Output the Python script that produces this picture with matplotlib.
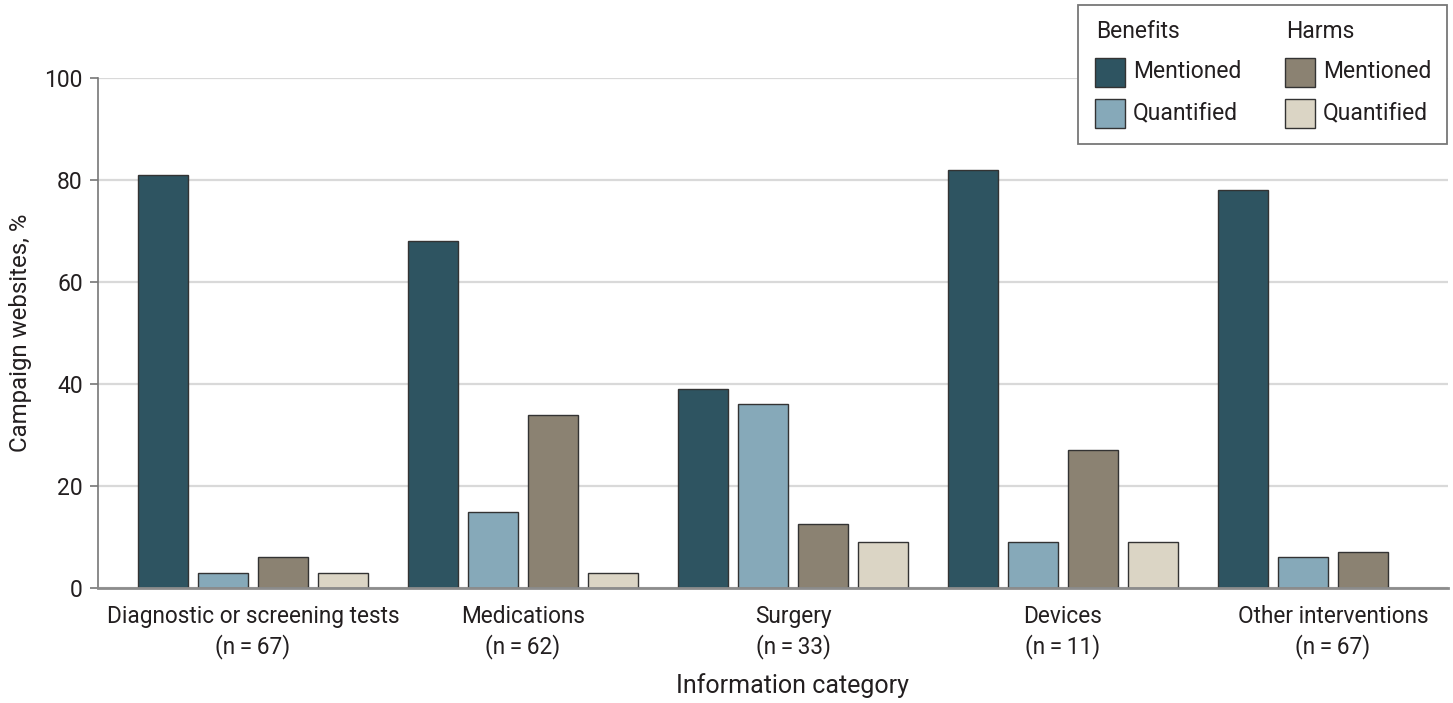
import numpy as np
import matplotlib.pyplot as plt
from matplotlib.patches import Rectangle

plt.rcParams['font.family'] = ['Roboto', 'DejaVu Sans']

categories = ['Diagnostic or screening tests\n(n\u2009=\u200967)',
              'Medications\n(n\u2009=\u200962)',
              'Surgery\n(n\u2009=\u200933)',
              'Devices\n(n\u2009=\u200911)',
              'Other interventions\n(n\u2009=\u200967)']
benefits_mentioned = [81, 68, 39, 82, 78]
benefits_quantified = [3, 15, 36, 9, 6]
harms_mentioned = [6, 34, 12.5, 27, 7]
harms_quantified = [3, 3, 9, 9, 0]

series = [benefits_mentioned, benefits_quantified, harms_mentioned, harms_quantified]
colors = ['#2e5461', '#86a9b9', '#8b8272', '#dbd5c5']

fig = plt.figure(figsize=(14.53, 7.03), dpi=100)
ax = fig.add_axes([98 / 1453, 1 - 588 / 703, 1350 / 1453, 510 / 703])

x = np.arange(len(categories))
step = 60 / 270
width = 50 / 270
for k, (vals, c) in enumerate(zip(series, colors)):
    vals = np.array(vals, dtype=float)
    mask = vals > 0
    ax.bar(x[mask] + (k - 1.5) * step, vals[mask], width, color=c,
           edgecolor='#333333', linewidth=1.0, zorder=3)

ax.set_xlim((98 - 253) / 270, (1448 - 253) / 270)
ax.set_ylim(0, 100)
ax.set_yticks([0, 20, 40, 60, 80, 100])
ax.yaxis.grid(True, color='#d9d9d9', linewidth=1.6, zorder=0)
ax.set_axisbelow(True)
ax.set_xticks(x)
ax.set_xticklabels(categories, fontsize=16.3, color='#231f20', linespacing=1.3)
ax.tick_params(axis='x', length=0, pad=12.5)
ax.tick_params(axis='y', length=6, width=1.2, color='#777777', pad=5,
               labelsize=16.5, labelcolor='#231f20')
for s in ['top', 'right']:
    ax.spines[s].set_visible(False)
ax.spines['left'].set_color('#777777')
ax.spines['left'].set_linewidth(1.2)
ax.spines['bottom'].set_color('#8c8c8c')
ax.spines['bottom'].set_linewidth(2)
ax.spines['bottom'].set_zorder(4)

ax.set_ylabel('Campaign websites, %', fontsize=17.3, color='#231f20', labelpad=9)
ax.set_xlabel('Information category', fontsize=18, color='#231f20', labelpad=10)
ax.xaxis.label.set_x((793 - 98) / 1350)

# legend box drawn in figure pixels
W, H = 1453, 703
def fx(px):
    return px / W
def fy(py):
    return 1 - py / H

fig.patches.append(Rectangle((fx(1078), fy(144)), fx(1447) - fx(1078), fy(5) - fy(144),
                             transform=fig.transFigure, facecolor='white',
                             edgecolor='#777777', linewidth=1.3, zorder=10))
legend_cols = [(1095, 'Benefits', colors[0], colors[1]),
               (1285, 'Harms', colors[2], colors[3])]
for x0, title, c1, c2 in legend_cols:
    fig.text(fx(x0 + 1), fy(32), title, fontsize=16.5, va='center', ha='left',
             color='#231f20', zorder=11)
    for yc, c, lab in [(72, c1, 'Mentioned'), (113, c2, 'Quantified')]:
        fig.patches.append(Rectangle((fx(x0), fy(yc + 14.5)), fx(30), fy(0) - fy(29),
                                     transform=fig.transFigure, facecolor=c,
                                     edgecolor='#333333', linewidth=1.0, zorder=11))
        fig.text(fx(x0 + 38), fy(yc), lab, fontsize=16.5, va='center', ha='left',
                 color='#231f20', zorder=11)

fig.savefig('out.png', dpi=100)
